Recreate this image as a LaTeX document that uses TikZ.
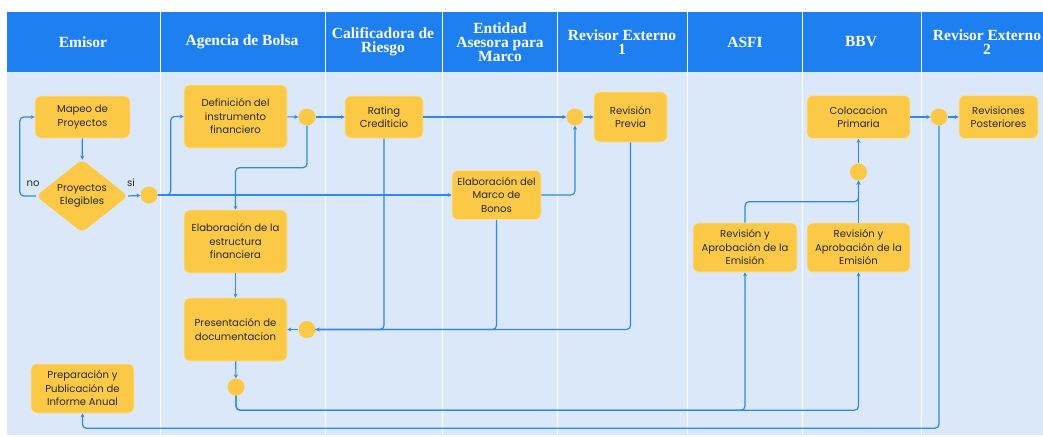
\documentclass[tikz,border=0pt]{standalone}
\usepackage{fontspec}
\setmainfont{Poppins}
\newfontfamily\headfont{Liberation Serif}
\usetikzlibrary{arrows.meta,shapes.geometric}
\definecolor{hdr}{HTML}{1E80F0}
\definecolor{bgl}{HTML}{DBE8FA}
\definecolor{ybox}{HTML}{FBC946}
\definecolor{ln}{HTML}{2F87F2}
\definecolor{txt}{HTML}{2A2A2A}
\tikzset{
  box/.style={draw=ybox!55!white, line width=0.6pt, fill=ybox, rounded corners=6pt, align=center,
    font=\fontsize{10.1}{13.5}\selectfont, inner sep=0pt, text=txt},
  dot/.style={circle, fill=ybox, minimum size=17pt, inner sep=0pt},
  conn/.style={draw=ln, line width=1.2pt, rounded corners=4pt, -{Stealth[length=4pt,width=4pt]}},
  plain/.style={draw=ln, line width=1.2pt, rounded corners=4pt},
  lane/.style={font=\headfont\bfseries\fontsize{15.5}{14}\selectfont, text=white, align=center},
  lbl/.style={font=\fontsize{10.1}{12}\selectfont, text=txt, inner sep=0pt},
  divider/.style={draw=white, line width=1pt}
}
\begin{document}
\begin{tikzpicture}[x=1pt,y=-1pt]
\useasboundingbox (0,0) rectangle (1043,436);
\fill[white] (0,0) rectangle (1043,436);
% background
\fill[bgl] (7,72) rectangle (1043,435);
\fill[hdr] (7,12) rectangle (1043,72);
\foreach \x in {160,325,442,557,687,802,921}
  \draw[divider] (\x,12) -- (\x,435);
% lane headers
\node[lane] (h1) at (83,42) {Emisor};
\node[lane] (h2) at (242,42) {Agencia de Bolsa};
\node[lane] (h3) at (383,42) {Calificadora de\\Riesgo};
\node[lane] (h4) at (500,42) {Entidad\\Asesora para\\Marco};
\node[lane] (h5) at (622,42) {Revisor Externo\\1};
\node[lane] (h6) at (745,42) {ASFI};
\node[lane] (h7) at (861,42) {BBV};
\node[lane] (h8) at (987,42) {Revisor Externo\\2};
% process nodes
\node[box, minimum width=95pt, minimum height=42pt] (mapeo) at (82.5,117) {Mapeo de\\Proyectos};
\node[diamond, fill=ybox, rounded corners=5pt, minimum width=92pt, minimum height=70pt, inner sep=0pt,
      align=center, font=\fontsize{10.1}{13.5}\selectfont, text=txt] (eleg) at (82,196) {Proyectos\\Elegibles};
\node[dot] (c1) at (149,195) {};
\node[box, minimum width=103pt, minimum height=63pt] (def) at (235.5,116.5) {Definición del\\instrumento\\financiero};
\node[dot] (c2) at (307,117) {};
\node[box, minimum width=78pt, minimum height=42pt] (rating) at (384,117) {Rating\\Crediticio};
\node[box, minimum width=89pt, minimum height=49pt] (marco) at (496.5,195) {Elaboración del\\Marco de\\Bonos};
\node[dot] (c3) at (575,117) {};
\node[box, minimum width=73pt, minimum height=50pt] (prev) at (630.5,117) {Revisión\\Previa};
\node[box, minimum width=104pt, minimum height=49pt] (asfi) at (745,247.5) {Revisión y\\Aprobación de la\\Emisión};
\node[box, minimum width=103pt, minimum height=49pt] (bbv) at (858.5,247.5) {Revisión y\\Aprobación de la\\Emisión};
\node[dot] (c6) at (858.5,172) {};
\node[box, minimum width=103pt, minimum height=43pt] (coloc) at (858.5,117) {Colocacion\\Primaria};
\node[dot] (c7) at (939,117) {};
\node[box, minimum width=79pt, minimum height=43pt] (post) at (998.5,117) {Revisiones\\Posteriores};
\node[box, minimum width=103pt, minimum height=63pt] (estr) at (235.5,241.5) {Elaboración de la\\estructura\\financiera};
\node[box, minimum width=103pt, minimum height=63pt] (pres) at (235.5,329.5) {Presentación de\\documentacion};
\node[dot] (c4) at (307,329.5) {};
\node[dot] (c5) at (236,387) {};
\node[box, minimum width=103pt, minimum height=49pt] (prep) at (82.5,388.5) {Preparación y\\Publicación de\\Informe Anual};
% labels
\node[lbl] (no) at (33,184) {no};
\node[lbl] (si) at (131,183) {si};
% connectors
\draw[conn] (mapeo) -- (eleg);
\draw[conn] (eleg.west) -- ++(-16,0) |- (mapeo.west);
\draw[conn] (eleg.east) -- (c1);
\draw[conn] (c1.east) -- ++(13,0) |- (def.west);
\draw[conn] (c1.east) -- (marco.west);
\draw[conn] (def) -- (c2);
\draw[conn] (c2) -- (rating);
\draw[conn] (c2.south) -- ++(0,42) -| (estr.north);
\draw[conn] (rating) -- (c3);
\draw[conn] (marco.east) -| (c3.south);
\draw[conn] (c3) -- (prev);
\draw[conn] (prev.south) |- (c4.east);
\draw[plain] (rating.south) |- (c4.east);
\draw[plain] (marco.south) |- (c4.east);
\draw[conn] (c4) -- (pres);
\draw[conn] (estr) -- (pres);
\draw[conn] (pres) -- (c5);
\draw[conn] (c5.south) -- ++(0,14.5) -| (asfi.south);
\draw[conn] (c5.south) -- ++(0,14.5) -| (bbv.south);
\draw[conn] (asfi.north) -- ++(0,-21) -| (c6.south);
\draw[conn] (bbv.north) -- (c6.south);
\draw[conn] (c6) -- (coloc);
\draw[conn] (coloc) -- (c7);
\draw[conn] (c7) -- (post);
\draw[conn] (c7.south) -- ++(0,302.5) -| (prep.south);
\end{tikzpicture}
\end{document}
